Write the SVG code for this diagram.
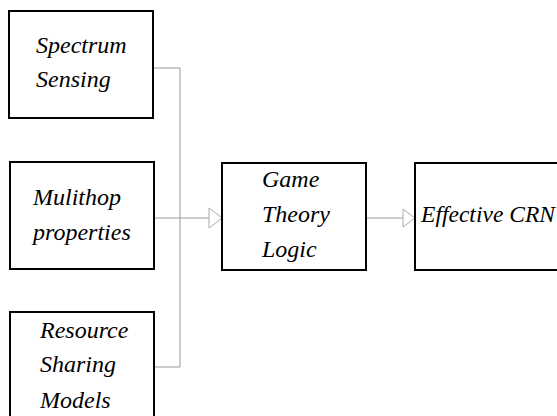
<svg xmlns="http://www.w3.org/2000/svg" width="557" height="416" viewBox="0 0 557 416">
<defs>
<style>
.box{fill:#fff;stroke:#000;stroke-width:2}
.t{font-family:"Liberation Serif",serif;font-style:italic;font-size:24px;fill:#000}
.c{fill:none;stroke:#999;stroke-width:1}
.ah{fill:#fff;stroke:#aaa;stroke-width:1}
</style>
</defs>
<rect width="557" height="416" fill="#fff"/>
<g id="connectors">
<polyline class="c" points="153,68 180,68 180,367 154,367"/>
<line class="c" x1="154" y1="218" x2="210" y2="218"/>
<polygon class="ah" points="209,208 222,218 209,228"/>
<line class="c" x1="366" y1="218" x2="404" y2="218"/>
<polygon class="ah" points="403,209 415,218 403,227"/>
</g>
<g id="spectrum">
<rect class="box" x="9" y="11" width="144" height="107"/>
<text class="t" x="36" y="53">Spectrum</text>
<text class="t" x="36" y="87">Sensing</text>
</g>
<g id="multihop">
<rect class="box" x="10" y="162" width="144" height="107"/>
<text class="t" x="33" y="205">Mulithop</text>
<text class="t" x="33" y="240">properties</text>
</g>
<g id="resource">
<rect class="box" x="10" y="312" width="144" height="110"/>
<text class="t" x="40" y="338">Resource</text>
<text class="t" x="40" y="372">Sharing</text>
<text class="t" x="40" y="408">Models</text>
</g>
<g id="game">
<rect class="box" x="222" y="163" width="144" height="107"/>
<text class="t" x="262" y="187">Game</text>
<text class="t" x="262" y="222">Theory</text>
<text class="t" x="262" y="257">Logic</text>
</g>
<g id="crn">
<rect class="box" x="415" y="163" width="150" height="107"/>
<text class="t" x="421" y="222" textLength="134" lengthAdjust="spacingAndGlyphs">Effective CRN</text>
</g>
</svg>
